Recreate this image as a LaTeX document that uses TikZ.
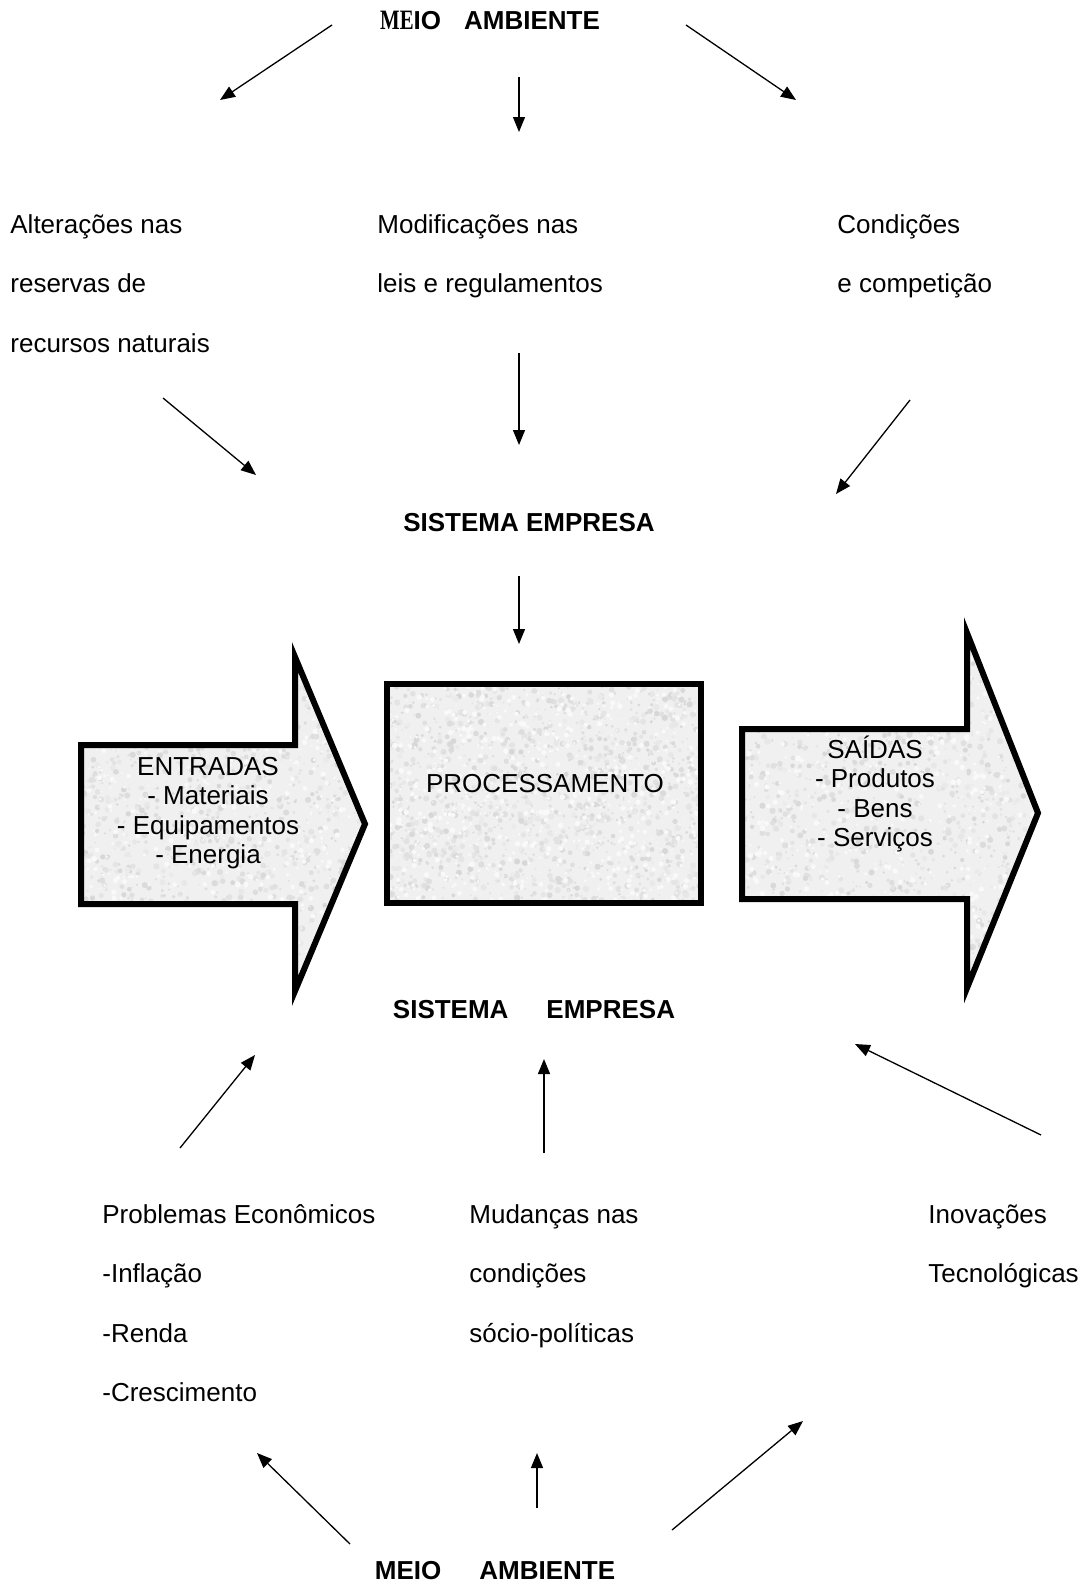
\documentclass[tikz,border=0pt]{standalone}
\usepackage{fontspec}
\usepackage{graphicx}
\setmainfont{Liberation Sans}
\newfontfamily\serifface{Liberation Serif}
\usetikzlibrary{arrows.meta}

% granite-like speckle inside the current clip region
\newcommand\granite[4]{%
  \fill[gray!12] (#1,#2) rectangle (#3,#4);
  \foreach \k in {1,...,1500}{%
    \pgfmathsetmacro\gx{#1+rnd*(#3-#1)}%
    \pgfmathsetmacro\gy{#2+rnd*(#4-#2)}%
    \pgfmathsetmacro\gr{0.8+rnd*2.4}%
    \pgfmathtruncatemacro\gc{16+rnd*16}%
    \fill[gray!\gc] (\gx,\gy) circle[radius=\gr];
  }%
  \foreach \k in {1,...,700}{%
    \pgfmathsetmacro\gx{#1+rnd*(#3-#1)}%
    \pgfmathsetmacro\gy{#2+rnd*(#4-#2)}%
    \pgfmathsetmacro\gr{0.8+rnd*2.0}%
    \fill[gray!5] (\gx,\gy) circle[radius=\gr];
  }%
}

\begin{document}
\begin{tikzpicture}[x=0.5pt,y=-0.5pt,
  conn/.style={line width=0.65pt,-{Triangle[length=7.5pt,width=6pt]}},
  lbl/.style={inner sep=0pt,font=\fontsize{13}{29.75}\selectfont,align=left,anchor=base west},
  boxtxt/.style={inner sep=0pt,font=\fontsize{13}{14.75}\selectfont,align=center,anchor=base},
  head/.style={inner sep=0pt,font=\fontsize{13}{15}\selectfont\bfseries,anchor=base},
  blockline/.style={line width=3pt,line join=miter,miter limit=20,draw=black}
]
\pgfmathsetseed{4242}
\useasboundingbox (0,0) rectangle (1088,1585);

% ---------- environment (top) ----------
\node[head] (meioTop) at (490,29)
  {\scalebox{0.8}[1.08]{\serifface ME}IO\hspace{11.5pt}AMBIENTE};

\coordinate (t1a) at (332,25);  \coordinate (t1b) at (220,100);
\coordinate (t2a) at (519,77);  \coordinate (t2b) at (519,132);
\coordinate (t3a) at (686,25);  \coordinate (t3b) at (796,100);
\draw[conn] (t1a) -- (t1b);
\draw[conn] (t2a) -- (t2b);
\draw[conn] (t3a) -- (t3b);

% multi-line labels: the base anchor sits on the last line
\node[lbl] (alt) at (10,352) {Alterações nas\\reservas de\\recursos naturais};
\node[lbl] (mod) at (377,292.5) {Modificações nas\\leis e regulamentos};
\node[lbl] (cond) at (837,292.5) {Condições\\e competição};

\coordinate (m1a) at (163,398); \coordinate (m1b) at (256,475);
\coordinate (m2a) at (519,353); \coordinate (m2b) at (519,445);
\coordinate (m3a) at (910,400); \coordinate (m3b) at (836,494);
\draw[conn] (m1a) -- (m1b);
\draw[conn] (m2a) -- (m2b);
\draw[conn] (m3a) -- (m3b);

\node[head] (sisTop) at (529,531) {SISTEMA EMPRESA};
\coordinate (sa) at (519,576); \coordinate (sb) at (519,644);
\draw[conn] (sa) -- (sb);

% ---------- input arrow ----------
\begin{scope}
  \clip (81,745) -- (295,745) -- (295,657) -- (365,824) -- (295,991) -- (295,904) -- (81,904) -- cycle;
  \granite{78}{650}{370}{995}
\end{scope}
\draw[blockline] (81,745) -- (295,745) -- (295,657) -- (365,824) -- (295,991) -- (295,904) -- (81,904) -- cycle;
\node[boxtxt] (entradas) at (208,863.5) {ENTRADAS\\- Materiais\\- Equipamentos\\- Energia};

% ---------- processing box ----------
\begin{scope}
  \clip (387,684) rectangle (701,903);
  \granite{385}{680}{705}{907}
\end{scope}
\draw[blockline] (387,684) rectangle (701,903);
\node[boxtxt] (proc) at (545,792) {PROCESSAMENTO};

% ---------- output arrow ----------
\begin{scope}
  \clip (742,729) -- (967,729) -- (967,633) -- (1038,813) -- (967,988) -- (967,899) -- (742,899) -- cycle;
  \granite{738}{628}{1042}{992}
\end{scope}
\draw[blockline] (742,729) -- (967,729) -- (967,633) -- (1038,813) -- (967,988) -- (967,899) -- (742,899) -- cycle;
\node[boxtxt] (saidas) at (875,846.5) {SAÍDAS\\- Produtos\\- Bens\\- Serviços};

% ---------- environment (bottom) ----------
\node[head] (sisBot) at (534,1018) {SISTEMA\hspace{19pt}EMPRESA};

\coordinate (b1a) at (180,1148);  \coordinate (b1b) at (255,1055);
\coordinate (b2a) at (544,1153);  \coordinate (b2b) at (544,1059);
\coordinate (b3a) at (1041,1135); \coordinate (b3b) at (855,1044);
\draw[conn] (b1a) -- (b1b);
\draw[conn] (b2a) -- (b2b);
\draw[conn] (b3a) -- (b3b);

\node[lbl] (prob) at (102,1401.5) {Problemas Econômicos\\-Inflação\\-Renda\\-Crescimento};
\node[lbl] (mud) at (469,1342) {Mudanças nas\\condições\\sócio-políticas};
\node[lbl] (inov) at (928,1282.5) {Inovações\\Tecnológicas};

\coordinate (l1a) at (350,1544); \coordinate (l1b) at (257,1453);
\coordinate (l2a) at (537,1508); \coordinate (l2b) at (537,1453);
\coordinate (l3a) at (672,1530); \coordinate (l3b) at (803,1421);
\draw[conn] (l1a) -- (l1b);
\draw[conn] (l2a) -- (l2b);
\draw[conn] (l3a) -- (l3b);

\node[head] (meioBot) at (495,1579) {MEIO\hspace{19pt}AMBIENTE};
\end{tikzpicture}
\end{document}
